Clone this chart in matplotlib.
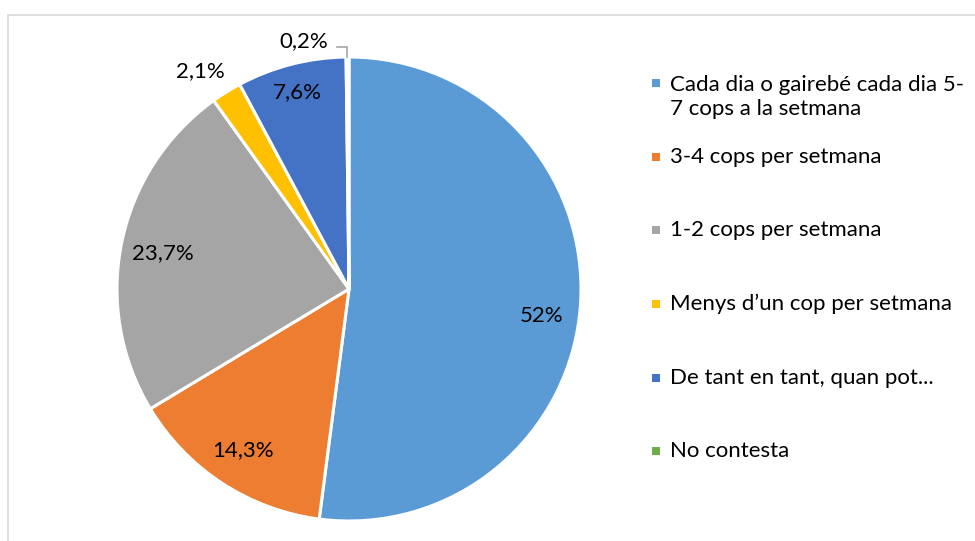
"""Pie chart: freqüència (percentatges) amb llegenda a la dreta."""

import matplotlib

matplotlib.use("Agg")
import matplotlib.pyplot as plt
from matplotlib.patches import Rectangle

plt.rcParams["font.family"] = ["Lato", "DejaVu Sans"]

categories = [
    "Cada dia o gairebé cada dia 5-\n7 cops a la setmana",
    "3-4 cops per setmana",
    "1-2 cops per setmana",
    "Menys d\u2019un cop per setmana",
    "De tant en tant, quan pot...",
    "No contesta",
]
values = [52.0, 14.3, 23.7, 2.1, 7.6, 0.2]
value_labels = ["52%", "14,3%", "23,7%", "2,1%", "7,6%", "0,2%"]
colors = ["#5B9BD5", "#ED7D31", "#A5A5A5", "#FFC000", "#4472C4", "#70AD47"]

# pixel layout (y measured from the top of the image)
W, H = 975, 541
CENTER = (349, 289)
RADIUS = 232
label_pos = [(542, 316), (243, 450), (163, 253), (200, 71), (297, 92), (304, 41)]
legend_rows = [83, 157, 230, 304, 378, 451]
LEGEND_MARK_X = 656
LEGEND_TEXT_X = 670
FS = 16


def main() -> None:
    fig = plt.figure(figsize=(W / 100, H / 100), dpi=100)
    ax = fig.add_axes([0, 0, 1, 1])

    ax.pie(
        values,
        colors=colors,
        startangle=90,
        counterclock=False,
        center=(CENTER[0], H - CENTER[1]),
        radius=RADIUS,
        wedgeprops=dict(edgecolor="white", linewidth=2.2),
    )
    ax.set_xlim(0, W)
    ax.set_ylim(0, H)
    ax.set_aspect("equal")
    ax.axis("off")

    for text, (x, y) in zip(value_labels, label_pos):
        ax.text(x, H - y, text, ha="center", va="center", fontsize=FS, color="#000000")

    # leader line for the tiny slice
    ax.plot([337, 347, 347], [H - 47, H - 47, H - 57], color="#A6A6A6", lw=1.2,
            solid_joinstyle="miter")

    for label, color, y in zip(categories, colors, legend_rows):
        ax.plot(LEGEND_MARK_X, H - y, marker="s", markersize=6, color=color,
                markeredgewidth=0)
        if "\n" in label:
            ax.text(LEGEND_TEXT_X, H - y - 14, label, ha="left", va="center",
                    fontsize=FS, color="#000000", linespacing=1.2)
        else:
            ax.text(LEGEND_TEXT_X, H - y, label, ha="left", va="center",
                    fontsize=FS, color="#000000")

    # chart border (clipped by the image at right and bottom)
    fig.patches.append(
        Rectangle((8 / W, -0.02), 1.0, (H - 15) / H + 0.02, transform=fig.transFigure,
                  fill=False, edgecolor="#D9D9D9", linewidth=1.2)
    )

    fig.savefig("out.png", dpi=100)
    plt.close(fig)


if __name__ == "__main__":
    main()
